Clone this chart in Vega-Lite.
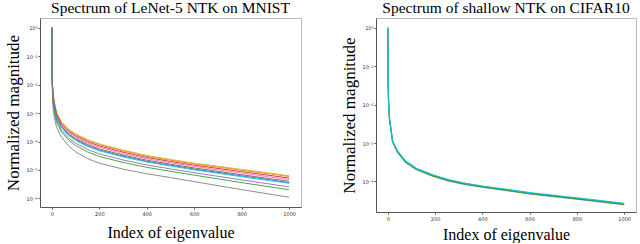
{
  "$schema": "https://vega.github.io/schema/vega-lite/v6.json",
  "background": "white",
  "padding": {"left": 4, "top": 0, "right": 0, "bottom": 0},
  "spacing": 38,
  "config": {
    "view": {"stroke": "#bbbbbb", "strokeWidth": 1},
    "font": "Liberation Serif",
    "title": {"font": "Liberation Serif", "fontSize": 15.5, "fontWeight": "normal", "color": "#000", "offset": 2},
    "axis": {
      "grid": false,
      "domainColor": "#555",
      "tickColor": "#555",
      "tickSize": 2,
      "labelFont": "DejaVu Sans",
      "labelFontSize": 5,
      "labelColor": "#333",
      "titleFont": "Liberation Serif",
      "titleFontSize": 17,
      "titleFontWeight": "normal",
      "titleColor": "#000"
    }
  },
  "datasets": {
    "left": [
      {"i":0,"v":1,"s":"olive"},{"i":2,"v":1.26e-2,"s":"olive"},{"i":5,"v":5.01e-3,"s":"olive"},{"i":10,"v":2.51e-3,"s":"olive"},{"i":20,"v":1.05e-3,"s":"olive"},{"i":40,"v":4.9e-4,"s":"olive"},{"i":70,"v":2.69e-4,"s":"olive"},{"i":100,"v":1.86e-4,"s":"olive"},{"i":150,"v":1.17e-4,"s":"olive"},{"i":200,"v":8.3e-5,"s":"olive"},{"i":300,"v":5.0e-5,"s":"olive"},{"i":400,"v":3.24e-5,"s":"olive"},{"i":500,"v":2.34e-5,"s":"olive"},{"i":600,"v":1.74e-5,"s":"olive"},{"i":800,"v":1.05e-5,"s":"olive"},{"i":1000,"v":6.3e-6,"s":"olive"},
      {"i":0,"v":1,"s":"orange"},{"i":2,"v":1.22e-2,"s":"orange"},{"i":5,"v":4.79e-3,"s":"orange"},{"i":10,"v":2.39e-3,"s":"orange"},{"i":20,"v":1.0e-3,"s":"orange"},{"i":40,"v":4.67e-4,"s":"orange"},{"i":70,"v":2.55e-4,"s":"orange"},{"i":100,"v":1.76e-4,"s":"orange"},{"i":150,"v":1.10e-4,"s":"orange"},{"i":200,"v":7.8e-5,"s":"orange"},{"i":300,"v":4.71e-5,"s":"orange"},{"i":400,"v":3.05e-5,"s":"orange"},{"i":500,"v":2.21e-5,"s":"orange"},{"i":600,"v":1.64e-5,"s":"orange"},{"i":800,"v":9.8e-6,"s":"orange"},{"i":1000,"v":5.9e-6,"s":"orange"},
      {"i":0,"v":1,"s":"red"},{"i":2,"v":1.17e-2,"s":"red"},{"i":5,"v":4.42e-3,"s":"red"},{"i":10,"v":2.19e-3,"s":"red"},{"i":20,"v":9.2e-4,"s":"red"},{"i":40,"v":4.29e-4,"s":"red"},{"i":70,"v":2.32e-4,"s":"red"},{"i":100,"v":1.59e-4,"s":"red"},{"i":150,"v":9.9e-5,"s":"red"},{"i":200,"v":7.0e-5,"s":"red"},{"i":300,"v":4.23e-5,"s":"red"},{"i":400,"v":2.75e-5,"s":"red"},{"i":500,"v":2.0e-5,"s":"red"},{"i":600,"v":1.47e-5,"s":"red"},{"i":800,"v":8.75e-6,"s":"red"},{"i":1000,"v":5.2e-6,"s":"red"},
      {"i":0,"v":1,"s":"pink"},{"i":2,"v":1.11e-2,"s":"pink"},{"i":5,"v":4.07e-3,"s":"pink"},{"i":10,"v":2.0e-3,"s":"pink"},{"i":20,"v":8.4e-4,"s":"pink"},{"i":40,"v":3.94e-4,"s":"pink"},{"i":70,"v":2.12e-4,"s":"pink"},{"i":100,"v":1.44e-4,"s":"pink"},{"i":150,"v":8.9e-5,"s":"pink"},{"i":200,"v":6.3e-5,"s":"pink"},{"i":300,"v":3.79e-5,"s":"pink"},{"i":400,"v":2.48e-5,"s":"pink"},{"i":500,"v":1.80e-5,"s":"pink"},{"i":600,"v":1.33e-5,"s":"pink"},{"i":800,"v":7.8e-6,"s":"pink"},{"i":1000,"v":4.6e-6,"s":"pink"},
      {"i":0,"v":1,"s":"brown"},{"i":2,"v":1.05e-2,"s":"brown"},{"i":5,"v":3.72e-3,"s":"brown"},{"i":10,"v":1.81e-3,"s":"brown"},{"i":20,"v":7.7e-4,"s":"brown"},{"i":40,"v":3.56e-4,"s":"brown"},{"i":70,"v":1.90e-4,"s":"brown"},{"i":100,"v":1.28e-4,"s":"brown"},{"i":150,"v":7.9e-5,"s":"brown"},{"i":200,"v":5.5e-5,"s":"brown"},{"i":300,"v":3.36e-5,"s":"brown"},{"i":400,"v":2.21e-5,"s":"brown"},{"i":500,"v":1.60e-5,"s":"brown"},{"i":600,"v":1.18e-5,"s":"brown"},{"i":800,"v":6.8e-6,"s":"brown"},{"i":1000,"v":4.0e-6,"s":"brown"},
      {"i":0,"v":1,"s":"blue"},{"i":2,"v":1.01e-2,"s":"blue"},{"i":5,"v":3.47e-3,"s":"blue"},{"i":10,"v":1.67e-3,"s":"blue"},{"i":20,"v":7.1e-4,"s":"blue"},{"i":40,"v":3.31e-4,"s":"blue"},{"i":70,"v":1.75e-4,"s":"blue"},{"i":100,"v":1.17e-4,"s":"blue"},{"i":150,"v":7.2e-5,"s":"blue"},{"i":200,"v":5.0e-5,"s":"blue"},{"i":300,"v":3.06e-5,"s":"blue"},{"i":400,"v":2.02e-5,"s":"blue"},{"i":500,"v":1.46e-5,"s":"blue"},{"i":600,"v":1.08e-5,"s":"blue"},{"i":800,"v":6.2e-6,"s":"blue"},{"i":1000,"v":3.6e-6,"s":"blue"},
      {"i":0,"v":1,"s":"cyan"},{"i":2,"v":9.8e-3,"s":"cyan"},{"i":5,"v":3.31e-3,"s":"cyan"},{"i":10,"v":1.59e-3,"s":"cyan"},{"i":20,"v":6.8e-4,"s":"cyan"},{"i":40,"v":3.15e-4,"s":"cyan"},{"i":70,"v":1.66e-4,"s":"cyan"},{"i":100,"v":1.10e-4,"s":"cyan"},{"i":150,"v":6.7e-5,"s":"cyan"},{"i":200,"v":4.73e-5,"s":"cyan"},{"i":300,"v":2.88e-5,"s":"cyan"},{"i":400,"v":1.91e-5,"s":"cyan"},{"i":500,"v":1.38e-5,"s":"cyan"},{"i":600,"v":1.01e-5,"s":"cyan"},{"i":800,"v":5.8e-6,"s":"cyan"},{"i":1000,"v":3.4e-6,"s":"cyan"},
      {"i":0,"v":1,"s":"purple"},{"i":2,"v":8.8e-3,"s":"purple"},{"i":5,"v":2.75e-3,"s":"purple"},{"i":10,"v":1.30e-3,"s":"purple"},{"i":20,"v":5.6e-4,"s":"purple"},{"i":40,"v":2.59e-4,"s":"purple"},{"i":70,"v":1.34e-4,"s":"purple"},{"i":100,"v":8.7e-5,"s":"purple"},{"i":150,"v":5.3e-5,"s":"purple"},{"i":200,"v":3.68e-5,"s":"purple"},{"i":300,"v":2.25e-5,"s":"purple"},{"i":400,"v":1.50e-5,"s":"purple"},{"i":500,"v":1.09e-5,"s":"purple"},{"i":600,"v":8.0e-6,"s":"purple"},{"i":800,"v":4.5e-6,"s":"purple"},{"i":1000,"v":2.54e-6,"s":"purple"},
      {"i":0,"v":1,"s":"green"},{"i":2,"v":8.0e-3,"s":"green"},{"i":5,"v":2.37e-3,"s":"green"},{"i":10,"v":1.10e-3,"s":"green"},{"i":20,"v":4.81e-4,"s":"green"},{"i":40,"v":2.21e-4,"s":"green"},{"i":70,"v":1.13e-4,"s":"green"},{"i":100,"v":7.2e-5,"s":"green"},{"i":150,"v":4.3e-5,"s":"green"},{"i":200,"v":3.0e-5,"s":"green"},{"i":300,"v":1.84e-5,"s":"green"},{"i":400,"v":1.24e-5,"s":"green"},{"i":500,"v":9.0e-6,"s":"green"},{"i":600,"v":6.6e-6,"s":"green"},{"i":800,"v":3.6e-6,"s":"green"},{"i":1000,"v":2.02e-6,"s":"green"},
      {"i":0,"v":1,"s":"gray"},{"i":2,"v":6.3e-3,"s":"gray"},{"i":5,"v":1.58e-3,"s":"gray"},{"i":10,"v":7.1e-4,"s":"gray"},{"i":20,"v":3.16e-4,"s":"gray"},{"i":40,"v":1.45e-4,"s":"gray"},{"i":70,"v":7.1e-5,"s":"gray"},{"i":100,"v":4.37e-5,"s":"gray"},{"i":150,"v":2.51e-5,"s":"gray"},{"i":200,"v":1.74e-5,"s":"gray"},{"i":300,"v":1.07e-5,"s":"gray"},{"i":400,"v":7.4e-6,"s":"gray"},{"i":500,"v":5.4e-6,"s":"gray"},{"i":600,"v":3.9e-6,"s":"gray"},{"i":800,"v":2.04e-6,"s":"gray"},{"i":1000,"v":1.10e-6,"s":"gray"}
    ],
    "right": [
      {"i":0,"v":1,"s":"magenta"},{"i":1,"v":4.8e-2,"s":"magenta"},{"i":3,"v":1.2e-2,"s":"magenta"},{"i":7,"v":4.2e-3,"s":"magenta"},{"i":20,"v":1.07e-3,"s":"magenta"},{"i":40,"v":5.85e-4,"s":"magenta"},{"i":75,"v":3.15e-4,"s":"magenta"},{"i":120,"v":2.04e-4,"s":"magenta"},{"i":190,"v":1.38e-4,"s":"magenta"},{"i":260,"v":1.02e-4,"s":"magenta"},{"i":330,"v":8.3e-5,"s":"magenta"},{"i":400,"v":7.05e-5,"s":"magenta"},{"i":520,"v":5.55e-5,"s":"magenta"},{"i":600,"v":4.7e-5,"s":"magenta"},{"i":800,"v":3.45e-5,"s":"magenta"},{"i":1000,"v":2.5e-5,"s":"magenta"},
      {"i":0,"v":1,"s":"dark"},{"i":1,"v":4.9e-2,"s":"dark"},{"i":3,"v":1.23e-2,"s":"dark"},{"i":7,"v":4.3e-3,"s":"dark"},{"i":20,"v":1.11e-3,"s":"dark"},{"i":40,"v":6.05e-4,"s":"dark"},{"i":75,"v":3.26e-4,"s":"dark"},{"i":120,"v":2.1e-4,"s":"dark"},{"i":190,"v":1.42e-4,"s":"dark"},{"i":260,"v":1.06e-4,"s":"dark"},{"i":330,"v":8.6e-5,"s":"dark"},{"i":400,"v":7.3e-5,"s":"dark"},{"i":520,"v":5.75e-5,"s":"dark"},{"i":600,"v":4.9e-5,"s":"dark"},{"i":800,"v":3.57e-5,"s":"dark"},{"i":1000,"v":2.58e-5,"s":"dark"},
      {"i":0,"v":1,"s":"cyan"},{"i":1,"v":5.0e-2,"s":"cyan"},{"i":3,"v":1.26e-2,"s":"cyan"},{"i":7,"v":4.47e-3,"s":"cyan"},{"i":20,"v":1.15e-3,"s":"cyan"},{"i":40,"v":6.3e-4,"s":"cyan"},{"i":75,"v":3.39e-4,"s":"cyan"},{"i":120,"v":2.19e-4,"s":"cyan"},{"i":190,"v":1.48e-4,"s":"cyan"},{"i":260,"v":1.10e-4,"s":"cyan"},{"i":330,"v":8.9e-5,"s":"cyan"},{"i":400,"v":7.6e-5,"s":"cyan"},{"i":520,"v":6.0e-5,"s":"cyan"},{"i":600,"v":5.1e-5,"s":"cyan"},{"i":800,"v":3.72e-5,"s":"cyan"},{"i":1000,"v":2.69e-5,"s":"cyan"}
    ]
  },
  "hconcat": [
    {
      "width": 261,
      "height": 189,
      "title": "Spectrum of LeNet-5 NTK on MNIST",
      "data": {"name": "left"},
      "mark": {"type": "line", "strokeWidth": 0.9, "clip": true},
      "encoding": {
        "x": {"field": "i", "type": "quantitative", "scale": {"domain": [-50, 1050], "nice": false, "zero": false},
              "axis": {"title": "Index of eigenvalue", "format": "d", "titleFontSize": 16, "values": [0, 200, 400, 600, 800, 1000], "labelPadding": 2, "titlePadding": 8}},
        "y": {"field": "v", "type": "quantitative", "scale": {"type": "log", "domain": [5e-7, 2.2], "nice": false},
              "axis": {"title": "Normalized magnitude", "values": [1, 0.1, 0.01, 0.001, 0.0001, 0.00001, 0.000001],
                       "labelExpr": "datum.value > 0.5 ? '10⁰' : datum.value > 0.05 ? '10⁻¹' : datum.value > 0.005 ? '10⁻²' : datum.value > 0.0005 ? '10⁻³' : datum.value > 0.00005 ? '10⁻⁴' : datum.value > 0.000005 ? '10⁻⁵' : '10⁻⁶'",
                       "labelPadding": 1, "titlePadding": 3}},
        "color": {"field": "s", "type": "nominal", "legend": null,
                  "scale": {"domain": ["gray", "green", "purple", "blue", "cyan", "brown", "pink", "red", "orange", "olive"],
                            "range": ["#7f7f7f", "#2ca02c", "#9467bd", "#1f77b4", "#17becf", "#8c564b", "#e377c2", "#d62728", "#ff7f0e", "#bcbd22"]}}
      }
    },
    {
      "width": 260,
      "height": 194,
      "title": "Spectrum of shallow NTK on CIFAR10",
      "data": {"name": "right"},
      "mark": {"type": "line", "strokeWidth": 1.2, "clip": true},
      "encoding": {
        "x": {"field": "i", "type": "quantitative", "scale": {"domain": [-50, 1050], "nice": false, "zero": false},
              "axis": {"title": "Index of eigenvalue", "format": "d", "titleFontSize": 16, "values": [0, 200, 400, 600, 800, 1000], "labelPadding": 2, "titlePadding": 5}},
        "y": {"field": "v", "type": "quantitative", "scale": {"type": "log", "domain": [1.6e-5, 1.8], "nice": false},
              "axis": {"title": "Normalized magnitude", "values": [1, 0.1, 0.01, 0.001, 0.0001],
                       "labelExpr": "datum.value > 0.5 ? '10⁰' : datum.value > 0.05 ? '10⁻¹' : datum.value > 0.005 ? '10⁻²' : datum.value > 0.0005 ? '10⁻³' : '10⁻⁴'",
                       "labelPadding": 1, "titlePadding": 3}},
        "color": {"field": "s", "type": "nominal", "legend": null,
                  "scale": {"domain": ["magenta", "dark", "cyan"], "range": ["#e040a0", "#555555", "#17becf"]}}
      }
    }
  ]
}
